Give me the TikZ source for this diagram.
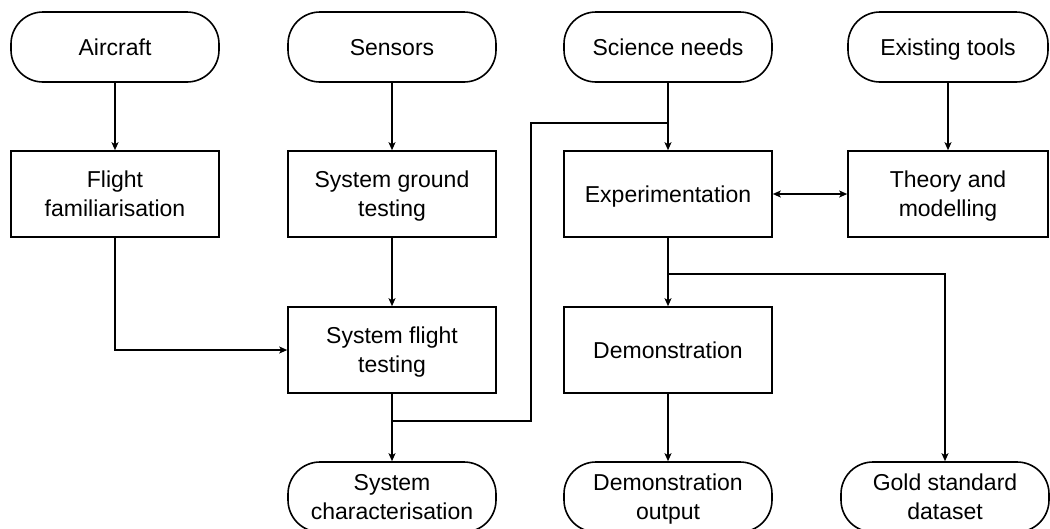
\documentclass[tikz,border=0pt]{standalone}
\usepackage{fontspec}
\setmainfont{Liberation Sans}
\usetikzlibrary{arrows.meta}
\begin{document}
\begin{tikzpicture}[x=1pt,y=-1pt,
  every node/.style={font=\fontsize{23}{29}\selectfont, align=center, inner sep=0pt, text depth=0pt},
  termbox/.style={draw, line width=1.6pt, rounded corners=32pt, minimum width=208pt, minimum height=70pt},
  procbox/.style={draw, line width=1.6pt, minimum width=208pt, minimum height=86pt},
  conn/.style={line width=1.6pt},
  arr/.style={conn, -{Stealth[length=8pt,width=7pt,inset=2pt]}},
  darr/.style={conn, {Stealth[length=8pt,width=7pt,inset=2pt]}-{Stealth[length=8pt,width=7pt,inset=2pt]}}
]
\useasboundingbox (0,0) rectangle (1050,528);
% row 1
\node[termbox] (air) at (115,47) {Aircraft};
\node[termbox] (sen) at (392,47) {Sensors};
\node[termbox] (sci) at (668,47) {Science needs};
\node[termbox, minimum width=200pt] (ext) at (948,47) {Existing tools};
% row 2
\node[procbox] (ff) at (115,194) {Flight\\familiarisation};
\node[procbox] (sgt) at (392,194) {System ground\\testing};
\node[procbox] (exp) at (668,194) {Experimentation};
\node[procbox, minimum width=200pt] (thm) at (948,194) {Theory and\\modelling};
% row 3
\node[procbox] (sft) at (392,350) {System flight\\testing};
\node[procbox] (demo) at (668,350) {Demonstration};
% row 4
\node[termbox] (sc) at (392,497) {System\\characterisation};
\node[termbox] (dout) at (668,497) {Demonstration\\output};
\node[termbox] (gold) at (945,497) {Gold standard\\dataset};
% connectors
\draw[arr] (air) -- (ff);
\draw[arr] (sen) -- (sgt);
\draw[arr] (sci) -- (exp);
\draw[arr] (ext) -- (thm);
\draw[darr] (exp) -- (thm);
\draw[arr] (sgt) -- (sft);
\draw[arr] (ff.south) |- (sft.west);
\draw[arr] (sft) -- (sc);
\draw[arr] (exp) -- (demo);
\draw[arr] (demo) -- (dout);
\coordinate (j1) at (668,123);
\coordinate (k1) at (531,123);
\coordinate (k2) at (531,421);
\coordinate (j2) at (392,421);
\draw[conn] (j1) -- (k1) -- (k2) -- (j2);
\coordinate (j3) at (668,274);
\draw[arr] (j3) -| (gold.north);
\end{tikzpicture}
\end{document}
